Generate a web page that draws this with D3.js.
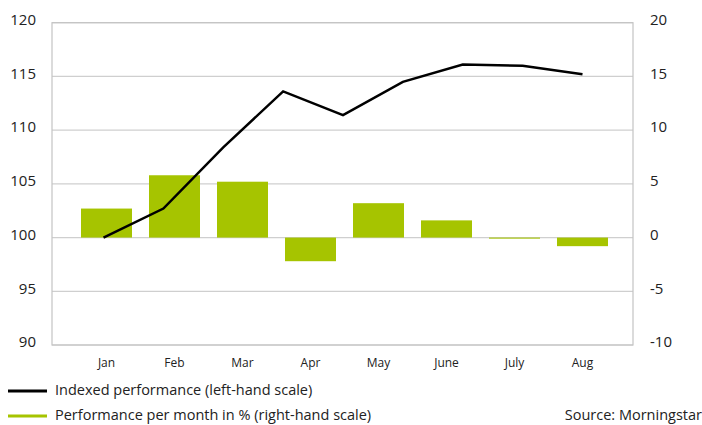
<!DOCTYPE html>
<html>
<head>
<meta charset="utf-8">
<script src="https://cdn.jsdelivr.net/npm/d3@7"></script>
<style>
  body { margin: 0; background: #fff; }
  text { font-family: "Open Sans", sans-serif; fill: #222; }
</style>
</head>
<body>
<svg id="chart" width="702" height="425"></svg>
<script>
// months on the x axis
const months = ['Jan', 'Feb', 'Mar', 'Apr', 'May', 'June', 'July', 'Aug'];
// monthly performance in % (right-hand scale)
const monthlyPerf = [2.7, 5.8, 5.2, -2.2, 3.2, 1.6, -0.1, -0.8];
// indexed performance (left-hand scale), start point + end of each month
const indexed = [100, 102.7, 108.4, 113.6, 111.4, 114.5, 116.1, 116.0, 115.2];
const leftTicks = [90, 95, 100, 105, 110, 115, 120];
const rightTicks = [-10, -5, 0, 5, 10, 15, 20];

const svg = d3.select('#chart');
const plotLeft = 52, plotRight = 633, plotTop = 22.7, plotBottom = 345;

const yLeft = d3.scaleLinear().domain([90, 120]).range([plotBottom, plotTop]);
const yRight = d3.scaleLinear().domain([-10, 20]).range([plotBottom, plotTop]);

const xScale = d3.scaleBand()
  .domain(months)
  .range([72.5, 616.5])
  .paddingInner(0.25)
  .paddingOuter(0.125);

// the line has one point more than months, spread evenly from Jan to Aug centres
const xLine = d3.scaleLinear()
  .domain([0, indexed.length - 1])
  .range([xScale('Jan') + xScale.bandwidth() / 2 - 3, xScale('Aug') + xScale.bandwidth() / 2]);

// gridlines
svg.append('g')
  .selectAll('line')
  .data(leftTicks)
  .enter()
  .append('line')
  .attr('x1', plotLeft)
  .attr('x2', plotRight)
  .attr('y1', d => yLeft(d))
  .attr('y2', d => yLeft(d))
  .attr('stroke', '#cfcfcf')
  .attr('stroke-width', 1.2);

// frame
svg.append('rect')
  .attr('x', plotLeft)
  .attr('y', plotTop)
  .attr('width', plotRight - plotLeft)
  .attr('height', plotBottom - plotTop)
  .attr('fill', 'none')
  .attr('stroke', '#c4c4c4')
  .attr('stroke-width', 1.2);

// bars
svg.append('g')
  .selectAll('rect')
  .data(monthlyPerf)
  .enter()
  .append('rect')
  .attr('x', (d, i) => xScale(months[i]))
  .attr('width', xScale.bandwidth())
  .attr('y', d => yRight(Math.max(0, d)))
  .attr('height', d => Math.max(1, Math.abs(yRight(d) - yRight(0))))
  .attr('fill', '#a6c400');

// line
const lineFunction = d3.line()
  .x((d, i) => xLine(i))
  .y(d => yLeft(d));

svg.append('path')
  .attr('d', lineFunction(indexed))
  .attr('stroke', '#000')
  .attr('stroke-width', 2.5)
  .attr('fill', 'none');

// left axis labels
svg.append('g')
  .selectAll('text')
  .data(leftTicks)
  .enter()
  .append('text')
  .text(d => d)
  .attr('x', 36)
  .attr('y', d => yLeft(d) - 3)
  .attr('dy', '0.35em')
  .attr('text-anchor', 'end')
  .attr('font-size', '15px');

// right axis labels
svg.append('g')
  .selectAll('text')
  .data(rightTicks)
  .enter()
  .append('text')
  .text(d => d)
  .attr('x', 650)
  .attr('y', d => yRight(d) - 3)
  .attr('dy', '0.35em')
  .attr('text-anchor', 'start')
  .attr('font-size', '15px');

// month labels
svg.append('g')
  .selectAll('text')
  .data(months)
  .enter()
  .append('text')
  .text(d => d)
  .attr('x', d => xScale(d) + xScale.bandwidth() / 2)
  .attr('y', 363)
  .attr('dy', '0.35em')
  .attr('text-anchor', 'middle')
  .attr('font-size', '12px');

// legend
const legend = [
  { label: 'Indexed performance (left-hand scale)', color: '#000', y: 391 },
  { label: 'Performance per month in % (right-hand scale)', color: '#a6c400', y: 416 }
];
const lg = svg.append('g');
lg.selectAll('line')
  .data(legend)
  .enter()
  .append('line')
  .attr('x1', 8)
  .attr('x2', 47)
  .attr('y1', d => d.y)
  .attr('y2', d => d.y)
  .attr('stroke', d => d.color)
  .attr('stroke-width', 3);
lg.selectAll('text')
  .data(legend)
  .enter()
  .append('text')
  .text(d => d.label)
  .attr('x', 55)
  .attr('y', d => d.y - 1)
  .attr('dy', '0.35em')
  .attr('font-size', '14.5px');

svg.append('text')
  .text('Source: Morningstar')
  .attr('x', 702)
  .attr('y', 415)
  .attr('dy', '0.35em')
  .attr('text-anchor', 'end')
  .attr('font-size', '14.5px');
</script>
</body>
</html>
